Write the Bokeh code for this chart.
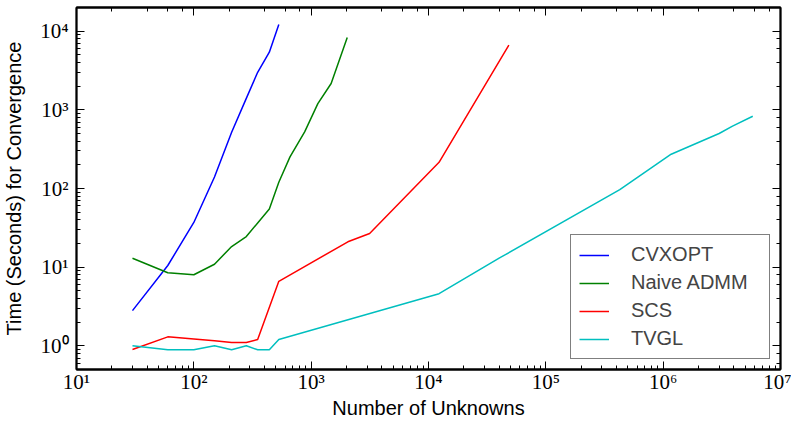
from bokeh.plotting import figure
from bokeh.models import LogAxis, CustomJSTickFormatter, Legend, LegendItem, LogTicker
from bokeh.embed import file_html
from bokeh.resources import INLINE

# ---- data ----
cvxopt_x = [30, 60, 100, 150, 210, 280, 350, 440, 530]
cvxopt_y = [2.8, 10.5, 37, 140, 520, 1400, 3000, 5400, 12200]

admm_x = [30, 60, 100, 150, 210, 280, 350, 440, 530, 660, 880, 1140, 1480, 2030]
admm_y = [13, 8.5, 8.0, 10.9, 18.3, 24.5, 36.5, 55, 120, 252, 525, 1200, 2160, 8300]

scs_x = [30, 60, 100, 150, 210, 280, 350, 530, 2055, 3150, 12300, 48400]
scs_y = [0.9, 1.3, 1.22, 1.16, 1.1, 1.1, 1.2, 6.6, 21, 26.8, 215, 6640]

tvgl_x = [30, 60, 100, 150, 210, 280, 350, 440, 530, 12300, 40000, 427000, 1170000, 3000000, 3900000, 5800000]
tvgl_y = [1.0, 0.89, 0.89, 1.0, 0.89, 1.0, 0.89, 0.89, 1.2, 4.6, 13, 97, 273, 500, 620, 830]

series_names = ["CVXOPT", "Naive ADMM", "SCS", "TVGL"]
series_colors = ["#0000ff", "#008000", "#ff0000", "#00bfbf"]

x_limits = (10, 1e7)
y_limits = (0.5, 2e4)

x_label = "Number of Unknowns"
y_label = "Time (Seconds) for Convergence"

sup_code = """
const s = {'0':'\u2070','1':'\u00b9','2':'\u00b2','3':'\u00b3','4':'\u2074',
           '5':'\u2075','6':'\u2076','7':'\u2077','8':'\u2078','9':'\u2079','-':'\u207b'};
const e = Math.round(Math.log10(tick));
return '10' + String(e).split('').map(c => s[c]).join('');
"""

p = figure(frame_width=704, frame_height=362, x_axis_type="log", y_axis_type="log",
           x_range=x_limits, y_range=y_limits,
           output_backend="svg", toolbar_location=None,
           min_border_left=71, min_border_right=11, min_border_top=7, min_border_bottom=0)

p.grid.visible = False
p.background_fill_color = "white"
p.border_fill_color = "white"
p.outline_line_color = "black"
p.outline_line_width = 1.8

renderers = []
for xs, ys, c in [(cvxopt_x, cvxopt_y, series_colors[0]),
                  (admm_x, admm_y, series_colors[1]),
                  (scs_x, scs_y, series_colors[2]),
                  (tvgl_x, tvgl_y, series_colors[3])]:
    r = p.line(xs, ys, line_color=c, line_width=1.5)
    renderers.append(r)

def style_axis(ax, labels=True):
    ax.axis_line_color = "black"
    ax.axis_line_width = 1.8
    ax.major_tick_in = 8
    ax.major_tick_out = 0
    ax.minor_tick_in = 4
    ax.minor_tick_out = 0
    ax.major_tick_line_color = "black"
    ax.minor_tick_line_color = "black"
    if labels:
        ax.formatter = CustomJSTickFormatter(code=sup_code)
        ax.major_label_text_font = "Liberation Serif"
        ax.major_label_text_font_size = "21px"
        ax.major_label_text_color = "black"
        ax.axis_label_text_font = "Liberation Sans"
        ax.axis_label_text_font_size = "20px"
        ax.axis_label_text_font_style = "normal"
        ax.axis_label_text_color = "black"
    else:
        ax.formatter = CustomJSTickFormatter(code="return '';")
        ax.major_label_text_font_size = "1px"
        ax.major_label_standoff = 0

for ax in p.xaxis:
    style_axis(ax)
    ax.axis_label = x_label
    ax.major_label_standoff = 0
    ax.axis_label_standoff = 0
for ax in p.yaxis:
    style_axis(ax)
    ax.axis_label = y_label
    ax.major_label_standoff = 8
    ax.axis_label_standoff = 12

top = LogAxis(ticker=LogTicker())
style_axis(top, labels=False)
p.add_layout(top, "above")
right = LogAxis(ticker=LogTicker())
style_axis(right, labels=False)
p.add_layout(right, "right")

legend = Legend(items=[LegendItem(label=n, renderers=[r]) for n, r in zip(series_names, renderers)],
                location="bottom_right")
legend.label_text_font = "Liberation Sans"
legend.label_text_font_size = "20px"
legend.glyph_width = 30
legend.glyph_height = 20
legend.label_height = 20
legend.label_width = 130
legend.label_standoff = 22
legend.spacing = 5
legend.padding = 8
legend.margin = 10
legend.border_line_color = "black"
legend.border_line_width = 1.8
legend.background_fill_alpha = 1.0
p.add_layout(legend)

open("out.html", "w").write(file_html(p, INLINE))
